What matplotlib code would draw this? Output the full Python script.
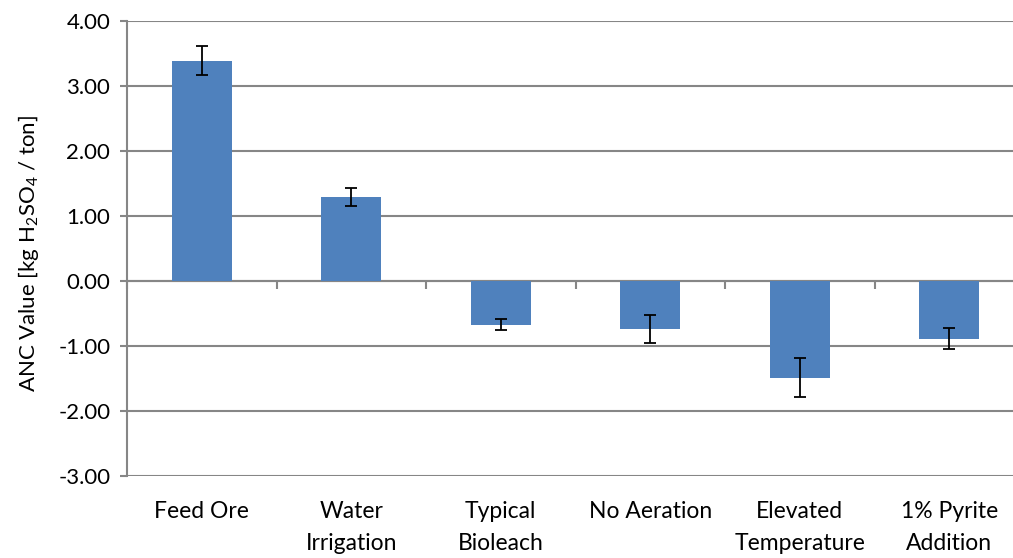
import matplotlib
matplotlib.use("Agg")
import matplotlib.pyplot as plt
import numpy as np

categories = ["Feed Ore", "Water\nIrrigation", "Typical\nBioleach", "No Aeration",
              "Elevated\nTemperature", "1% Pyrite\nAddition"]
values = [3.39, 1.29, -0.67, -0.74, -1.49, -0.89]
errors = [0.22, 0.14, 0.09, 0.21, 0.30, 0.16]
yticks = [4, 3, 2, 1, 0, -1, -2, -3]

plt.rcParams['font.family'] = ['Lato', 'DejaVu Sans']
grid_c = '#868686'

fig = plt.figure(figsize=(10.13, 5.58), dpi=100)
ax = fig.add_axes([127/1013, 1-476/558, 897/1013, 455/558])

x = np.arange(len(categories))
ax.bar(x, values, width=0.4, color='#4F81BD', zorder=3)
ax.errorbar(x, values, yerr=errors, fmt='none', ecolor='black', elinewidth=1.3,
            capsize=4.3, capthick=1.3, zorder=4)

ymin, ymax = -3, 4
ax.set_ylim(ymin, ymax)
ax.set_xlim(-0.5, len(categories) - 0.5)
ax.set_yticks(yticks)
ax.set_yticklabels([f"{v:.2f}" for v in yticks], fontsize=16)
ax.yaxis.grid(True, color=grid_c, linewidth=1.5, zorder=0)
ax.set_axisbelow(True)

for s in ['top', 'right', 'bottom']:
    ax.spines[s].set_visible(False)
ax.spines['left'].set_color(grid_c)
ax.spines['left'].set_linewidth(1.5)
ax.tick_params(axis='y', direction='out', length=5, width=1.5, color=grid_c, pad=7)

ax.set_xticks(x)
ax.set_xticklabels(categories, fontsize=16.5, linespacing=1.65)
ax.tick_params(axis='x', length=0, pad=18)

sec = ax.secondary_xaxis((0 - ymin) / (ymax - ymin))
sec.set_xticks(np.arange(len(categories) + 1) - 0.5)
sec.set_xticklabels([])
sec.spines['bottom'].set_color(grid_c)
sec.spines['bottom'].set_linewidth(1.5)
sec.tick_params(axis='x', direction='out', length=6, width=1.5, color=grid_c)

ax.set_ylabel(r"ANC Value [kg H$_\mathregular{2}$SO$_\mathregular{4}$ / ton]", fontsize=16)
ax.yaxis.set_label_coords(-(127 - 41) / 897, 0.49)

fig.savefig("out.png", dpi=100)
